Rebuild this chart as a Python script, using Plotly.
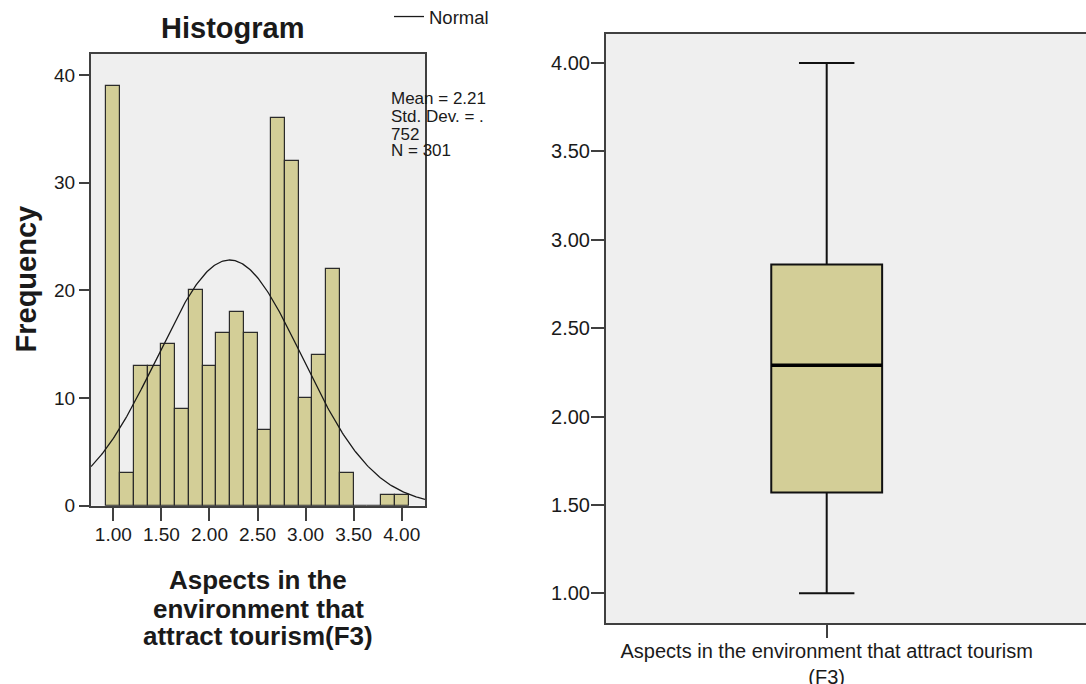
import numpy as np
import plotly.graph_objects as go

# ---------------- data ----------------
# F3 score levels (means of 7 items -> steps of 1/7)
score_levels = [1 + k / 7 for k in range(22)]
frequencies = [39, 3, 13, 13, 15, 9, 20, 13, 16, 18, 16, 7, 36, 32, 10, 14, 22, 3, 0, 0, 1, 1]
bin_width = 1 / 7

stat_mean = 2.21
stat_sd = 0.752
stat_n = 301

hist_xticks = [1.0, 1.5, 2.0, 2.5, 3.0, 3.5, 4.0]
hist_xticklabels = ["1.00", "1.50", "2.00", "2.50", "3.00", "3.50", "4.00"]
hist_yticks = [0, 10, 20, 30, 40]

box_min = 1.00
box_q1 = 1.57
box_median = 2.29
box_q3 = 2.86
box_max = 4.00
box_category = "Aspects in the environment that attract tourism<br>(F3)"
box_yticks = [1.0, 1.5, 2.0, 2.5, 3.0, 3.5, 4.0]
box_yticklabels = ["1.00", "1.50", "2.00", "2.50", "3.00", "3.50", "4.00"]

# ---------------- style ----------------
W, H = 1086, 684
BAR = "#D3CE97"
BG = "#EFEFEF"
FRAME = "#404040"
FONT = "Liberation Sans, Arial, sans-serif"

hx_range = [0.768, 4.242]
hy_range = [0, 41.94]
by_range = [0.832, 4.164]
bx_range = [-0.4598, 0.5402]
box_w = 0.231

fig = go.Figure()

# histogram bars
fig.add_trace(go.Bar(
    x=score_levels, y=frequencies, width=bin_width,
    marker=dict(color=BAR, line=dict(color="#2b2b2b", width=1.2)),
    xaxis="x", yaxis="y", showlegend=False, hoverinfo="x+y",
))

# normal curve
xs = np.linspace(hx_range[0], hx_range[1], 300)
ys = stat_n * bin_width * np.exp(-0.5 * ((xs - stat_mean) / stat_sd) ** 2) / (stat_sd * np.sqrt(2 * np.pi))
fig.add_trace(go.Scatter(
    x=xs, y=ys, mode="lines", name="Normal",
    line=dict(color="#1a1a1a", width=1.3),
    xaxis="x", yaxis="y", showlegend=True,
))

# boxplot
fig.add_trace(go.Box(
    x=[0], q1=[box_q1], median=[box_median], q3=[box_q3],
    lowerfence=[box_min], upperfence=[box_max],
    width=box_w, whiskerwidth=0.5,
    fillcolor=BAR, line=dict(color="#111111", width=2),
    xaxis="x2", yaxis="y2", showlegend=False,
))
# thick median line
fig.add_trace(go.Scatter(
    x=[-box_w / 2, box_w / 2], y=[box_median, box_median], mode="lines",
    line=dict(color="#000000", width=3.5),
    xaxis="x2", yaxis="y2", showlegend=False, hoverinfo="skip",
))

axis_common = dict(showgrid=False, zeroline=False, showline=True, linecolor=FRAME,
                   linewidth=2, ticks="outside", tickcolor=FRAME, tickwidth=2,
                   automargin=False)

fig.update_layout(
    width=W, height=H,
    margin=dict(l=0, r=0, t=0, b=0, autoexpand=False),
    paper_bgcolor="white", plot_bgcolor=BG,
    font=dict(family=FONT, color="#1a1a1a"),
    bargap=0,
    xaxis=dict(domain=[91 / W, 425 / W], range=hx_range, mirror=True,
               tickvals=hist_xticks, ticktext=hist_xticklabels, ticklen=13,
               ticklabelstandoff=-3,
               tickfont=dict(size=19), anchor="y", **axis_common),
    yaxis=dict(domain=[1 - 505.7 / H, 1 - 54 / H], range=hy_range, mirror=True,
               tickvals=hist_yticks, ticklen=10, tickfont=dict(size=19),
               anchor="x", **axis_common),
    xaxis2=dict(domain=[606 / W, 1.0], range=bx_range, mirror=True,
                tickvals=[0], ticktext=[box_category], ticklen=13,
                ticklabelstandoff=-4,
                tickfont=dict(size=20), anchor="y2", **axis_common),
    yaxis2=dict(domain=[1 - 623 / H, 1 - 34 / H], range=by_range, mirror=False,
                tickvals=box_yticks, ticktext=box_yticklabels, ticklen=13,
                ticklabelstandoff=-3,
                tickfont=dict(size=20), anchor="x2", **axis_common),
    legend=dict(x=389 / W, y=1 + 2 / H, xanchor="left", yanchor="top",
                bgcolor="rgba(0,0,0,0)", font=dict(size=18.5), itemwidth=30,
                tracegroupgap=0),
)

ann = []
ann.append(dict(text="<b>Histogram</b>", x=232.5 / W, y=1 - 28 / H, xref="paper", yref="paper",
                xanchor="center", yanchor="middle", showarrow=False, font=dict(size=29)))
ann.append(dict(text="<b>Frequency</b>", x=25.5 / W, y=1 - 279 / H, xref="paper", yref="paper",
                xanchor="center", yanchor="middle", textangle=-90, showarrow=False, font=dict(size=29)))
for txt, yc in [("Aspects in the", 580), ("environment that", 609), ("attract tourism(F3)", 636)]:
    ann.append(dict(text="<b>" + txt + "</b>", x=258 / W, y=1 - yc / H, xref="paper", yref="paper",
                    xanchor="center", yanchor="middle", showarrow=False, font=dict(size=26)))
stats_lines = ["Mean = %.2f" % stat_mean, "Std. Dev. = .", "752", "N = %d" % stat_n]
for txt, yc in zip(stats_lines, [98.5, 116.5, 134, 150]):
    ann.append(dict(text=txt, x=389 / W, y=1 - yc / H, xref="paper", yref="paper",
                    xanchor="left", yanchor="middle", showarrow=False, font=dict(size=17)))
fig.update_layout(annotations=ann)

fig.write_html(
    "out.html",
    config={"displayModeBar": False},
    post_script="document.body.style.margin='0px';document.body.style.overflow='hidden';",
)
